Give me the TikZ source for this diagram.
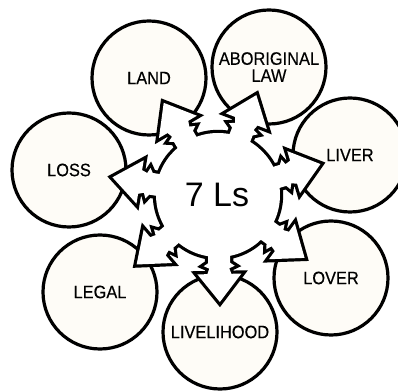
\documentclass[tikz,border=0pt]{standalone}
\usepackage{fontspec}
\setmainfont{Liberation Sans}
\newfontfamily\labfont[FakeStretch=0.91,FakeBold=0.4]{Liberation Sans}
\definecolor{cream}{RGB}{254,252,247}
\begin{document}
\begin{tikzpicture}[x=1pt,y=1pt,
  lcircle/.style={circle, draw=black, line width=3.2pt, fill=cream, minimum size=114pt,
    inner sep=0pt, align=center, font=\labfont\fontsize{18}{17}\selectfont},
  starline/.style={draw=black, line width=6.4pt, line join=miter, miter limit=6},
  starfill/.style={fill=white}]
\useasboundingbox (0,0) rectangle (398,390);
\def\arrowpath{(48,11) -- (68,11) -- (71,15.5) -- (73.5,10) -- (79,12) -- (79,22) -- (107,0)
  -- (79,-22) -- (79,-12) -- (73.5,-10) -- (71,-15.5) -- (68,-11) -- (48,-11) -- cycle}
% circles
\node[lcircle] (land) at (149,312) {LAND};
\node[lcircle] (law) at (269,323) {ABORIGINAL\\LAW};
\node[lcircle] (liver) at (350,235) {LIVER};
\node[lcircle] (lover) at (331,112) {LOVER};
\node[lcircle] (livelihood) at (220,58) {LIVELIHOOD};
\node[lcircle] (legal) at (100,98) {LEGAL};
\node[lcircle] (loss) at (69,220) {LOSS};
% central star: outline then fill
\coordinate (o) at (218,195);
\draw[starline] (o) circle (62);
\foreach \a in {-89,-36,16.8,69,120.5,170.5,-139.5}
  \draw[starline, shift={(o)}, rotate=\a] \arrowpath;
\fill[starfill] (o) circle (62);
\foreach \a in {-89,-36,16.8,69,120.5,170.5,-139.5}
  \fill[starfill, shift={(o)}, rotate=\a] \arrowpath;
\node[font=\fontsize{34}{34}\selectfont, inner sep=0pt] (c) at (217,195) {7 Ls};
\end{tikzpicture}
\end{document}
